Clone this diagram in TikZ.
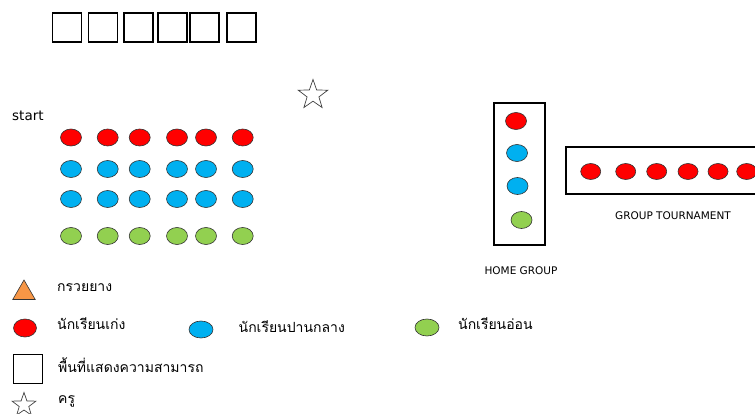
\documentclass[tikz,border=0pt]{standalone}
\usepackage{fontspec}
\setmainfont{DejaVu Sans}
\newfontfamily\thaifont[Script=Thai]{Loma}
\usetikzlibrary{shapes.geometric}
\usetikzlibrary{positioning}

\definecolor{topred}{HTML}{FF0000}
\definecolor{midblue}{HTML}{00B0F0}
\definecolor{lowgreen}{HTML}{92D050}
\definecolor{coneorange}{HTML}{F79646}

\begin{document}
\begin{tikzpicture}[x=1pt,y=-1pt]
\tikzstyle{pupil}=[ellipse,draw=black!80,line width=0.6pt,inner sep=0pt,minimum width=21,minimum height=17]
\tikzstyle{stage}=[rectangle,draw,line width=1.4pt,inner sep=0pt,minimum size=29]
\tikzstyle{frame}=[rectangle,draw,line width=2pt,inner sep=0pt]
\tikzstyle{teacher}=[star,star points=5,star point ratio=2.5,draw=black!75,line width=0.7pt,inner sep=0pt,minimum size=31]
\tikzstyle{label}=[font=\fontsize{10.5}{12}\selectfont,inner sep=0pt]
\tikzstyle{thai}=[font=\thaifont\fontsize{14}{16}\selectfont,anchor=west,inner sep=0pt]
\clip (0,0) rectangle (755,414);
\fill[white] (0,0) rectangle (755,414);
% stage squares
\foreach \x [count=\i] in {67,103,138.5,172.5,204.5,241.5}
  \node[stage] (s\i) at (\x,27.5) {};
\node[teacher] (t) at (313,95) {};
\node[anchor=west,inner sep=0pt,font=\fontsize{13.5}{15}\selectfont] (start) at (12,116) {start};
% students
\foreach \y/\col [count=\r] in {137.5/topred,169/midblue,199/midblue,236/lowgreen}
  \foreach \x [count=\c] in {71,107.7,139.7,177,206,242.7}
    \node[pupil,fill=\col] (p\r\c) at (\x,\y) {};
% home group
\node[frame,minimum width=51,minimum height=142] (hg) at (519.5,174) {};
\node[pupil,fill=topred] (hg1) at (516,121) {};
\node[pupil,fill=midblue] (hg2) at (517,153) {};
\node[pupil,fill=midblue] (hg3) at (517.5,186) {};
\node[pupil,fill=lowgreen] (hg4) at (521.5,220) {};
\node[label] (hgl) at (521,271) {HOME GROUP};
% group tournament
\node[frame,minimum width=220,minimum height=47] (gt) at (676,170.5) {};
\foreach \x [count=\i] in {590.7,625.7,656.7,688,718,746.7}
  \node[pupil,fill=topred,minimum width=20,minimum height=16] (gt\i) at (\x,171.5) {};
\node[label] (gtl) at (673,216) {GROUP TOURNAMENT};
% legend
\node[regular polygon,regular polygon sides=3,draw=black!80,fill=coneorange,line width=0.6pt,inner sep=0pt,minimum size=26] (k1) at (24,293) {};
\node[thai] (k1t) at (57,288) {กรวยยาง};
\node[pupil,fill=topred,minimum width=23,minimum height=18] (k2) at (25,328) {};
\node[thai] (k2t) at (57,324) {นักเรียนเก่ง};
\node[pupil,fill=midblue,minimum width=24,minimum height=17] (k3) at (201,329.5) {};
\node[thai] (k3t) at (238.5,327) {นักเรียนปานกลาง};
\node[pupil,fill=lowgreen,minimum width=24,minimum height=17] (k4) at (427,327.5) {};
\node[thai] (k4t) at (458,324) {นักเรียนอ่อน};
\node[stage,line width=1.6pt,minimum size=29] (k5) at (28,369) {};
\node[thai] (k5t) at (58,365) {พื้นที่แสดงความสามารถ};
\node[teacher,minimum size=25] (k6) at (24,405) {};
\node[thai] (k6t) at (58,401) {ครู};
\end{tikzpicture}
\end{document}
